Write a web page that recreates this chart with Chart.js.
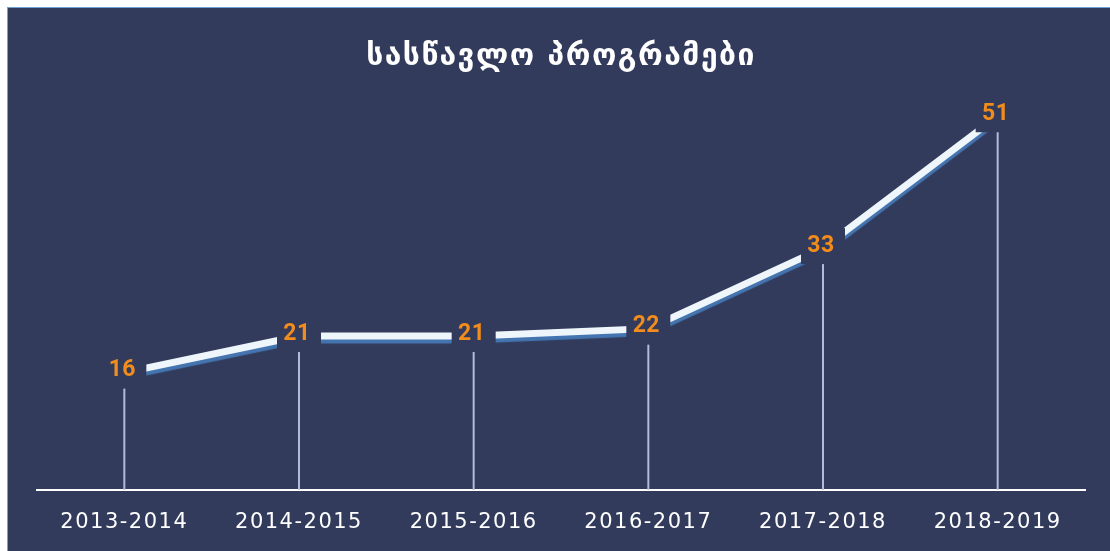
<!DOCTYPE html>
<html>
<head>
<meta charset="utf-8">
<script src="https://cdn.jsdelivr.net/npm/chart.js@4.4.1/dist/chart.umd.min.js"></script>
<style>
  body { margin: 0; background: #ffffff; }
  #wrap {
    position: absolute; left: 7px; top: 7px;
    width: 1102px; height: 543px;
    border-left: 1px solid #6fa3d8; border-top: 1px solid #6fa3d8;
    background: #323b5c;
  }
</style>
</head>
<body>
<div id="wrap"><canvas id="programs" width="1102" height="543"></canvas></div>
<script>
const years = ["2013-2014", "2014-2015", "2015-2016", "2016-2017", "2017-2018", "2018-2019"];
const programs = [16, 21, 21, 22, 33, 51];
const titleText = "სასწავლო პროგრამები";

const bg = "#323b5c";

// spacing for title and tick text
const spacing = {
  id: "spacing",
  beforeDraw(chart) { chart.ctx.letterSpacing = "1.5px"; },
  afterDraw(chart) { chart.ctx.letterSpacing = "0px"; },
};

// thin lines from each point down to the axis
const dropLines = {
  id: "dropLines",
  beforeDatasetsDraw(chart) {
    const { ctx, scales: { x, y } } = chart;
    ctx.save();
    ctx.strokeStyle = "#b3bbd9";
    ctx.lineWidth = 2;
    programs.forEach((v, i) => {
      const px = x.getPixelForValue(i);
      ctx.beginPath();
      ctx.moveTo(px, y.getPixelForValue(v));
      ctx.lineTo(px, y.getPixelForValue(0));
      ctx.stroke();
    });
    ctx.restore();
  },
  // shadow under the white line
  beforeDatasetDraw(chart) {
    const ctx = chart.ctx;
    ctx.save();
    ctx.shadowColor = "rgba(70,120,180,0.95)";
    ctx.shadowOffsetY = 4;
    ctx.shadowBlur = 1;
  },
  afterDatasetDraw(chart) {
    chart.ctx.restore();
  },
};

// orange value labels on a box the colour of the panel
const valueLabels = {
  id: "valueLabels",
  afterDatasetsDraw(chart) {
    const { ctx } = chart;
    const meta = chart.getDatasetMeta(0);
    ctx.save();
    ctx.letterSpacing = "0.5px";
    ctx.font = "bold 23px 'Liberation Sans Narrow', Roboto";
    ctx.textAlign = "center";
    ctx.textBaseline = "middle";
    meta.data.forEach((pt, i) => {
      ctx.fillStyle = bg;
      ctx.fillRect(pt.x - 22, pt.y - 20, 44, 36);
      ctx.fillStyle = "#f28c1c";
      ctx.fillText(programs[i], pt.x - 2, pt.y - 2);
    });
    ctx.restore();
  },
};

const ctx = document.getElementById("programs");
new Chart(ctx, {
  type: "line",
  data: {
    labels: years,
    datasets: [
      {
        data: programs,
        borderColor: "#eef6fb",
        borderWidth: 7,
        pointRadius: 0,
        tension: 0,
        clip: false,
      },
    ],
  },
  plugins: [spacing, dropLines, valueLabels],
  options: {
    responsive: false,
    animation: false,
    layout: {
      padding: { left: 29, right: 25, top: 0, bottom: -4 },
    },
    plugins: {
      legend: { display: false },
      tooltip: { enabled: false },
      title: {
        display: true,
        text: titleText,
        color: "#ffffff",
        font: { family: "DejaVu Sans", size: 30, weight: "bold" },
        padding: { top: 31, bottom: 9 },
      },
    },
    scales: {
      x: {
        offset: true,
        grid: { display: false, drawTicks: false },
        border: { color: "#ffffff", width: 2 },
        ticks: {
          color: "#ffffff",
          font: { family: "DejaVu Sans", size: 21 },
          padding: 20,
          maxRotation: 0,
          autoSkip: false,
        },
      },
      y: {
        display: false,
        min: 0,
        max: 55.4,
      },
    },
  },
});
</script>
</body>
</html>
